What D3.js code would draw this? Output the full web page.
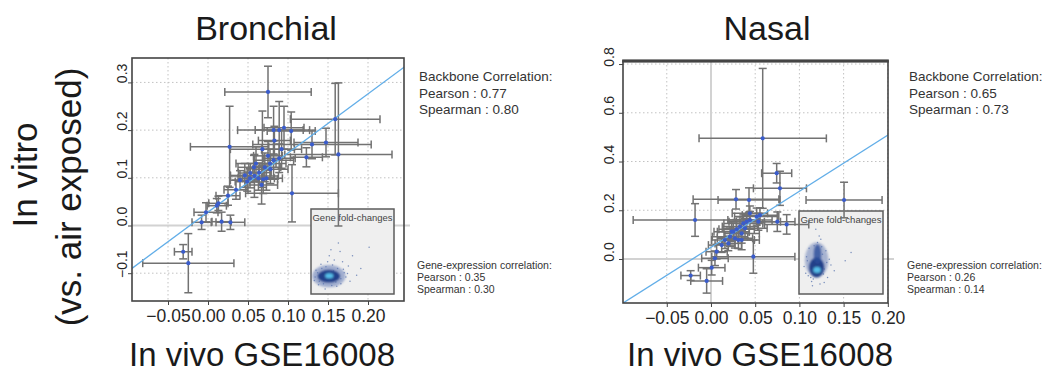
<!DOCTYPE html>
<html><head><meta charset="utf-8">
<script src="https://cdn.jsdelivr.net/npm/d3@7"></script>
<style>
body{margin:0;background:#fff}
svg{display:block}
text{font-family:"Liberation Sans",Arial,Helvetica,sans-serif}
</style>
</head><body>
<svg id="c" width="1048" height="375"></svg>
<script>
// ---------------- DATA ----------------
const xTicks = [-0.05, 0, 0.05, 0.10, 0.15, 0.20];
const bronchYTicks = [-0.1, 0, 0.1, 0.2, 0.3];
const nasalYTicks = [0, 0.2, 0.4, 0.6, 0.8];

const titles = ["Bronchial", "Nasal"];
const xLabel = "In vivo GSE16008";
const yLabelLines = ["In vitro", "(vs. air exposed)"];
const insetTitle = "Gene fold-changes";

// Bronchial: in vivo (x), in vitro (y), error half-widths
const bronchX   = [0.075,0.159,0.163,0.027,0.082,0.089,0.095,0.104,0.130,0.1475,0.123,0.068,0.105,
                   0.0575,0.064,0.071,0.0525,0.063,0.069,0.040,0.049,0.067,0.073,0.0775,0.082,0.089,0.075,
                   0.025,0.013,0.011,-0.0025,-0.008,0.017,0.028,-0.031,-0.0246,0.083,0.053,0.058,0.092,
                   0.046,0.078,0.060,0.035];
const bronchY   = [0.280,0.223,0.149,0.165,0.200,0.200,0.205,0.198,0.170,0.174,0.143,0.160,0.0675,
                   0.122,0.111,0.122,0.099,0.099,0.097,0.095,0.092,0.085,0.099,0.130,0.137,0.141,0.146,
                   0.0625,0.0465,0.0415,0.0277,0.0067,0.008,0.0067,-0.055,-0.079,0.178,0.110,0.104,0.160,
                   0.105,0.118,0.130,0.075];
const bronchXErr= [0.054,0.056,0.067,0.049,0.045,0.030,0.025,0.030,0.074,0.040,0.020,0.040,0.058,
                   0.020,0.015,0.020,0.015,0.020,0.018,0.012,0.015,0.020,0.020,0.020,0.025,0.020,0.018,
                   0.015,0.012,0.012,0.015,0.012,0.012,0.018,0.011,0.057,0.020,0.015,0.030,0.025,
                   0.018,0.022,0.025,0.015];
const bronchYErr= [0.054,0.075,0.150,0.085,0.050,0.060,0.045,0.040,0.030,0.030,0.020,0.080,0.060,
                   0.025,0.020,0.030,0.020,0.025,0.030,0.020,0.020,0.040,0.025,0.030,0.040,0.030,0.030,
                   0.020,0.015,0.015,0.020,0.015,0.020,0.015,0.015,0.062,0.030,0.020,0.045,0.040,
                   0.025,0.030,0.035,0.020];

// Nasal
const nasalX   = [0.0585,0.0743,0.078,0.1505,0.0283,0.043,-0.018,0.075,0.0856,0.0479,-0.023,-0.0049,0.0008,0.0045,
                  0.0064,0.0121,0.0158,0.0215,0.0252,0.029,0.0328,0.0366,0.0404,0.0441,0.0517,0.0554,
                  0.0196,0.0271,0.0347,0.031,0.0234,0.0347,0.0385,0.044,0.0536];
const nasalY   = [0.495,0.352,0.290,0.242,0.245,0.242,0.160,0.153,0.142,0.0096,-0.068,-0.090,-0.0356,0.003,
                  0.030,0.057,0.078,0.0916,0.112,0.122,0.133,0.146,0.153,0.160,0.174,0.180,
                  0.064,0.085,0.105,0.078,0.112,0.078,0.126,0.1875,0.153];
const nasalXErr= [0.072,0.017,0.030,0.043,0.0485,0.035,0.070,0.020,0.025,0.047,0.011,0.018,0.015,0.015,
                  0.012,0.015,0.015,0.020,0.018,0.020,0.020,0.022,0.020,0.025,0.025,0.020,
                  0.015,0.020,0.020,0.018,0.020,0.020,0.025,0.020,0.025];
const nasalYErr= [0.287,0.040,0.070,0.073,0.040,0.050,0.067,0.040,0.040,0.068,0.020,0.050,0.030,0.030,
                  0.030,0.030,0.035,0.040,0.035,0.040,0.040,0.035,0.030,0.035,0.035,0.030,
                  0.030,0.040,0.040,0.035,0.040,0.040,0.040,0.030,0.035];

// fitted backbone lines: intercept, slope
const bronchFit = [0.028, 1.24];
const nasalFit  = [0.048, 2.30];

// correlation annotations
const bronchBackbone = ["Backbone Correlation:", "Pearson : 0.77", "Spearman : 0.80"];
const bronchGene     = ["Gene-expression correlation:", "Pearson : 0.35", "Spearman : 0.30"];
const nasalBackbone  = ["Backbone Correlation:", "Pearson : 0.65", "Spearman : 0.73"];
const nasalGene      = ["Gene-expression correlation:", "Pearson : 0.26", "Spearman : 0.14"];

// inset gene fold-change cloud (inset units 0..1): density layers (haze, dense, core) and sparse genes
const bronchCloudU  = [0.215, 0.215, 0.22];
const bronchCloudV  = [0.21, 0.21, 0.215];
const bronchCloudRU = [0.20, 0.135, 0.05];
const bronchCloudRV = [0.13, 0.075, 0.03];
const bronchGeneU = [0.08,0.32,0.36,0.12,0.28,0.40,0.05,0.15,0.25,0.45,0.50,0.22,0.60,0.35,0.10,0.30,0.42,0.18,0.26,0.70,0.55,0.38,0.06,0.47,0.33,0.24,
                     0.44,0.04,0.39,0.13,0.31,0.20,0.09,0.36,0.27,0.17];
const bronchGeneV = [0.25,0.30,0.18,0.35,0.40,0.25,0.20,0.12,0.10,0.33,0.45,0.45,0.30,0.50,0.15,0.14,0.20,0.32,0.34,0.55,0.22,0.38,0.28,0.15,0.60,0.52,
                     0.24,0.16,0.29,0.30,0.09,0.38,0.11,0.12,0.27,0.06];
const nasalCloudU  = [0.21, 0.21, 0.22, 0.215];
const nasalCloudV  = [0.41, 0.32, 0.48, 0.29];
const nasalCloudRU = [0.14, 0.09, 0.045, 0.045];
const nasalCloudRV = [0.21, 0.12, 0.12, 0.035];
const nasalGeneU = [0.10,0.30,0.34,0.12,0.28,0.38,0.08,0.15,0.25,0.42,0.22,0.55,0.32,0.14,0.30,0.18,0.26,0.62,0.36,0.06,0.24,0.20,0.16,
                    0.11,0.33,0.09,0.29,0.17,0.27];
const nasalGeneV = [0.40,0.30,0.20,0.55,0.48,0.35,0.25,0.15,0.12,0.28,0.62,0.40,0.52,0.20,0.14,0.58,0.66,0.50,0.42,0.33,0.70,0.78,0.10,
                    0.22,0.38,0.45,0.24,0.18,0.57];

// ---------------- DRAWING ----------------
const svg = d3.select("#c");
const defs = svg.append("defs");
defs.append("filter").attr("id","soft").attr("x","-50%").attr("y","-50%").attr("width","200%").attr("height","200%")
  .append("feGaussianBlur").attr("stdDeviation", 1.0);

const layerFill = ["#5f78b4", "#1a3a86", "#5bc6ef"];
const layerOp   = [0.55, 0.95, 0.95];
const nasalLayerFill = ["#5f78b4", "#1a3a86", "#2a4c9a", "#5bc6ef"];
const nasalLayerOp   = [0.5, 0.95, 0.8, 0.95];

function drawPanel(p) {
  const x = d3.scaleLinear().domain(p.xDomain).range([p.L, p.R]);
  const y = d3.scaleLinear().domain(p.yDomain).range([p.B, p.T]);
  const g = svg.append("g");

  // dotted grid
  g.append("g").selectAll("line").data(xTicks).join("line")
    .attr("x1", d => x(d)).attr("x2", d => x(d)).attr("y1", p.T).attr("y2", p.B)
    .attr("stroke", "#c2c2c2").attr("stroke-width", 1).attr("stroke-dasharray", "1.5,2.5");
  g.append("g").selectAll("line").data(p.yTicks).join("line")
    .attr("y1", d => y(d)).attr("y2", d => y(d)).attr("x1", p.L).attr("x2", p.R)
    .attr("stroke", "#c2c2c2").attr("stroke-width", 1).attr("stroke-dasharray", "1.5,2.5");

  // zero reference lines
  g.append("line").attr("x1", p.L).attr("x2", p.R + 6).attr("y1", y(0)).attr("y2", y(0))
    .attr("stroke", "#d2d2d2").attr("stroke-width", 2);
  if (p.zeroV) {
    g.append("line").attr("x1", x(0)).attr("x2", x(0)).attr("y1", p.T).attr("y2", p.B)
      .attr("stroke", "#d2d2d2").attr("stroke-width", 2);
  }

  // inset
  const [i0, i1, i2, i3] = p.inset;
  const ix = d3.scaleLinear().domain([0, 1]).range([i0, i2]);
  const iy = d3.scaleLinear().domain([0, 1]).range([i3, i1]);
  g.append("rect").attr("x", i0).attr("y", i1).attr("width", i2 - i0).attr("height", i3 - i1)
    .attr("fill", "#efefef").attr("stroke", "#5c5c5c").attr("stroke-width", 1.5);
  g.append("text").attr("x", (i0 + i2) / 2).attr("y", i1 + 12).attr("text-anchor", "middle")
    .attr("font-size", 9).attr("fill", "#444").attr("textLength", i2 - i0 - 3)
    .attr("lengthAdjust", "spacingAndGlyphs").text(insetTitle);
  g.append("g").selectAll("circle").data(d3.range(p.geneU.length)).join("circle")
    .attr("cx", i => ix(p.geneU[i])).attr("cy", i => iy(p.geneV[i])).attr("r", 0.75)
    .attr("fill", "#5e78b0").attr("opacity", 0.8);
  g.append("g").attr("filter", "url(#soft)").selectAll("ellipse").data(d3.range(p.cloudU.length)).join("ellipse")
    .attr("cx", i => ix(p.cloudU[i])).attr("cy", i => iy(p.cloudV[i]))
    .attr("rx", i => ix(p.cloudRU[i]) - ix(0)).attr("ry", i => iy(0) - iy(p.cloudRV[i]))
    .attr("fill", i => p.layerFill[i]).attr("opacity", i => p.layerOp[i]);

  // error bars
  const idx = d3.range(p.xs.length);
  const eb = g.append("g").attr("stroke", "#727272").attr("stroke-width", 1.5).attr("fill", "none");
  const cap = 4;
  eb.selectAll(".h").data(idx).join("line").attr("class", "h")
    .attr("x1", i => x(p.xs[i] - p.ex[i])).attr("x2", i => x(p.xs[i] + p.ex[i]))
    .attr("y1", i => y(p.ys[i])).attr("y2", i => y(p.ys[i]));
  eb.selectAll(".hc1").data(idx).join("line").attr("class", "hc1")
    .attr("x1", i => x(p.xs[i] - p.ex[i])).attr("x2", i => x(p.xs[i] - p.ex[i]))
    .attr("y1", i => y(p.ys[i]) - cap).attr("y2", i => y(p.ys[i]) + cap);
  eb.selectAll(".hc2").data(idx).join("line").attr("class", "hc2")
    .attr("x1", i => x(p.xs[i] + p.ex[i])).attr("x2", i => x(p.xs[i] + p.ex[i]))
    .attr("y1", i => y(p.ys[i]) - cap).attr("y2", i => y(p.ys[i]) + cap);
  eb.selectAll(".v").data(idx).join("line").attr("class", "v")
    .attr("x1", i => x(p.xs[i])).attr("x2", i => x(p.xs[i]))
    .attr("y1", i => y(p.ys[i] - p.ey[i])).attr("y2", i => y(p.ys[i] + p.ey[i]));
  eb.selectAll(".vc1").data(idx).join("line").attr("class", "vc1")
    .attr("x1", i => x(p.xs[i]) - cap).attr("x2", i => x(p.xs[i]) + cap)
    .attr("y1", i => y(p.ys[i] - p.ey[i])).attr("y2", i => y(p.ys[i] - p.ey[i]));
  eb.selectAll(".vc2").data(idx).join("line").attr("class", "vc2")
    .attr("x1", i => x(p.xs[i]) - cap).attr("x2", i => x(p.xs[i]) + cap)
    .attr("y1", i => y(p.ys[i] + p.ey[i])).attr("y2", i => y(p.ys[i] + p.ey[i]));

  // fitted line clipped to frame
  const cid = "clip" + p.id;
  defs.append("clipPath").attr("id", cid).append("rect")
    .attr("x", p.L).attr("y", p.T).attr("width", p.R - p.L).attr("height", p.B - p.T);
  const [a, b] = p.fit;
  const fx = [p.xDomain[0] - 0.1, p.xDomain[1] + 0.1];
  g.append("line").attr("clip-path", `url(#${cid})`)
    .attr("x1", x(fx[0])).attr("y1", y(a + b * fx[0]))
    .attr("x2", x(fx[1])).attr("y2", y(a + b * fx[1]))
    .attr("stroke", "#62aee8").attr("stroke-width", 1.3);

  // points
  g.append("g").selectAll("circle").data(idx).join("circle")
    .attr("cx", i => x(p.xs[i])).attr("cy", i => y(p.ys[i])).attr("r", 2.1)
    .attr("fill", "#3a5ccc");

  // frame
  g.append("rect").attr("x", p.L).attr("y", p.T).attr("width", p.R - p.L).attr("height", p.B - p.T)
    .attr("fill", "none").attr("stroke", "#444").attr("stroke-width", 1.6);
  if (p.thickTop) {
    g.append("rect").attr("x", p.L - 0.8).attr("y", p.T - 1.6).attr("width", p.R - p.L + 1.6).attr("height", 3.2)
      .attr("fill", "#444");
  }

  // x axis
  const xa = g.append("g").attr("transform", `translate(0,${p.B})`)
    .call(d3.axisBottom(x).tickValues(xTicks).tickSize(4).tickPadding(5).tickFormat(d3.format(".2f")));
  xa.select(".domain").remove();
  xa.selectAll("line").attr("stroke", "#444");
  xa.selectAll("text").attr("font-size", 17.5).attr("fill", "#262626")
    .attr("font-family", '"Liberation Sans",Arial,sans-serif');

  // y axis
  const ya = g.append("g").attr("transform", `translate(${p.L},0)`)
    .call(d3.axisLeft(y).tickValues(p.yTicks).tickSize(4).tickFormat(""));
  ya.select(".domain").remove();
  ya.selectAll("line").attr("stroke", "#444");
  g.append("g").selectAll("text").data(p.yTicks).join("text")
    .attr("transform", d => `translate(${p.yLabX},${y(d) + p.yLabDy}) rotate(-90)`)
    .attr("text-anchor", "middle").attr("font-size", 14).attr("fill", "#262626")
    .text(d3.format(".1f"));

  // title & x label
  svg.append("text").attr("x", p.titleX).attr("y", 40).attr("text-anchor", "middle")
    .attr("font-size", 34).attr("fill", "#1a1a1a").text(p.title);
  svg.append("text").attr("x", p.xLabX).attr("y", 366).attr("text-anchor", "middle")
    .attr("font-size", 33).attr("fill", "#1a1a1a").text(xLabel);

  // annotations
  svg.append("g").selectAll("text").data(p.backbone).join("text")
    .attr("x", p.annX).attr("y", (d, i) => 81 + i * 16.6)
    .attr("font-size", 13.5).attr("fill", "#333").text(d => d);
  svg.append("g").selectAll("text").data(p.gene).join("text")
    .attr("x", p.annX - 2).attr("y", (d, i) => 269 + i * 12)
    .attr("font-size", 10.5).attr("fill", "#333").text(d => d);
}

drawPanel({
  id: "b", title: titles[0], titleX: 266, xLabX: 262,
  L: 132, R: 404, T: 58, B: 301,
  xDomain: [-0.095, 0.245], yDomain: [-0.1583, 0.3512], yTicks: bronchYTicks,
  yLabX: 127, yLabDy: -9, zeroV: false, thickTop: false,
  xs: bronchX, ys: bronchY, ex: bronchXErr, ey: bronchYErr, fit: bronchFit,
  inset: [311, 209, 394, 294],
  cloudU: bronchCloudU, cloudV: bronchCloudV, cloudRU: bronchCloudRU, cloudRV: bronchCloudRV,
  layerFill: layerFill, layerOp: layerOp,
  geneU: bronchGeneU, geneV: bronchGeneV,
  backbone: bronchBackbone, gene: bronchGene, annX: 419
});

drawPanel({
  id: "n", title: titles[1], titleX: 767, xLabX: 760,
  L: 623, R: 888, T: 61, B: 303,
  xDomain: [-0.0995, 0.2002], yDomain: [-0.1806, 0.8125], yTicks: nasalYTicks,
  yLabX: 614, yLabDy: -7, zeroV: true, thickTop: true,
  xs: nasalX, ys: nasalY, ex: nasalXErr, ey: nasalYErr, fit: nasalFit,
  inset: [799, 211, 883, 294],
  cloudU: nasalCloudU, cloudV: nasalCloudV, cloudRU: nasalCloudRU, cloudRV: nasalCloudRV,
  layerFill: nasalLayerFill, layerOp: nasalLayerOp,
  geneU: nasalGeneU, geneV: nasalGeneV,
  backbone: nasalBackbone, gene: nasalGene, annX: 909
});

// y axis label (two lines)
svg.append("text").attr("transform", "translate(37,175) rotate(-90)").attr("text-anchor", "middle")
  .attr("font-size", 35).attr("fill", "#1a1a1a").text(yLabelLines[0]);
svg.append("text").attr("transform", "translate(81,197) rotate(-90)").attr("text-anchor", "middle")
  .attr("font-size", 35).attr("fill", "#1a1a1a").text(yLabelLines[1]);
</script>
</body></html>
